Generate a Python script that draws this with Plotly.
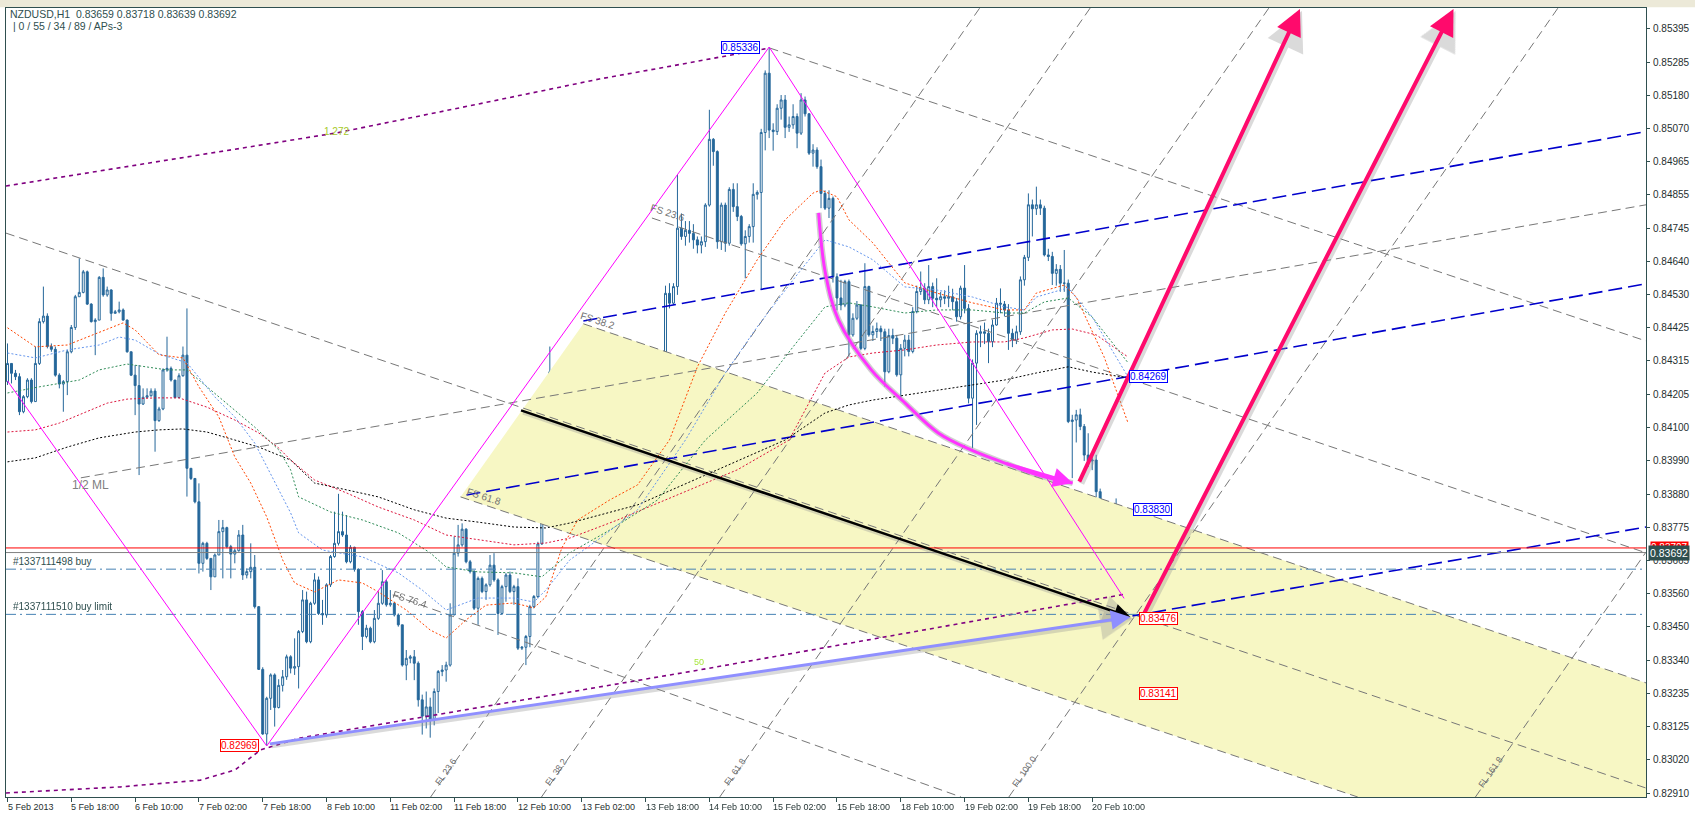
import plotly.graph_objects as go

# ---------------- data (bar index = hourly bar, prices) ----------------
open0 = 0.84248
closes = [
0.84307,0.84275,0.84264,0.84150,0.84199,0.84253,0.84183,0.84307,0.84443,0.84461,
0.84362,0.84353,0.84269,0.84240,0.84248,0.84345,0.84424,0.84524,0.84538,0.84605,
0.84500,0.84443,0.84448,0.84587,0.84530,0.84546,0.84470,0.84475,0.84481,0.84448,
0.84345,0.84269,0.84235,0.84175,0.84197,0.84202,0.84217,0.84121,0.84159,0.84286,
0.84291,0.84253,0.84196,0.84267,0.84334,0.83966,0.83933,0.83857,0.83657,0.83722,
0.83673,0.83613,0.83684,0.83760,0.83773,0.83711,0.83687,0.83698,0.83749,0.83619,
0.83630,0.83644,0.83516,0.83312,0.83102,0.83218,0.83294,0.83188,0.83260,0.83288,
0.83353,0.83316,0.83321,0.83435,0.83538,0.83402,0.83527,0.83603,0.83494,0.83489,
0.83587,0.83679,0.83722,0.83760,0.83749,0.83662,0.83709,0.83638,0.83500,0.83419,
0.83446,0.83402,0.83478,0.83527,0.83597,0.83522,0.83527,0.83489,0.83457,0.83326,
0.83348,0.83353,0.83332,0.83213,0.83160,0.83190,0.83150,0.83240,0.83305,0.83310,
0.83326,0.83489,0.83690,0.83717,0.83768,0.83662,0.83630,0.83511,0.83608,0.83565,
0.83587,0.83651,0.83603,0.83494,0.83581,0.83619,0.83565,0.83581,0.83381,0.83384,
0.83419,0.83516,0.83549,0.83720,0.83861,0.84194,0.84280,0.84156,0.84069,0.84004,
0.84090,0.84150,0.84110,0.84060,0.84090,0.84096,0.84123,0.84130,0.84253,0.84264,
0.84150,0.84210,0.84156,0.84140,0.84096,0.84069,0.84102,0.84058,0.84040,0.84080,
0.84060,0.84110,0.84128,0.84069,0.84050,0.84535,0.84503,0.84557,0.84747,0.84720,
0.84740,0.84730,0.84709,0.84692,0.84703,0.84822,0.85036,0.84996,0.84703,0.84822,
0.84698,0.84873,0.84817,0.84785,0.84696,0.84720,0.84752,0.84857,0.84863,0.85058,
0.85251,0.85066,0.85061,0.85137,0.85164,0.85075,0.85083,0.85110,0.85056,0.85164,
0.85119,0.84991,0.85001,0.84947,0.84860,0.84812,0.84844,0.84589,0.84520,0.84497,
0.84573,0.84400,0.84454,0.84497,0.84356,0.84557,0.84400,0.84411,0.84420,0.84410,
0.84280,0.84398,0.84389,0.84270,0.84356,0.84383,0.84346,0.84476,0.84541,0.84552,
0.84514,0.84557,0.84519,0.84514,0.84524,0.84519,0.84524,0.84508,0.84459,0.84552,
0.84486,0.84194,0.84308,0.84405,0.84410,0.84405,0.84378,0.84432,0.84503,0.84500,
0.84481,0.84405,0.84383,0.84410,0.84579,0.84652,0.84823,0.84810,0.84823,0.84812,
0.84660,0.84655,0.84600,0.84613,0.84568,0.84568,0.84118,0.84123,0.84140,0.84102,
0.84009,0.83990,0.83993,0.83890,0.83673,0.83706,0.83722,0.83749,0.83776,0.83668,
0.83659,0.83692]
highs = [
0.84372,0.84307,0.84286,0.84275,0.84204,0.84259,0.84259,0.84362,0.84454,0.84557,
0.84470,0.84372,0.84362,0.84275,0.84253,0.84351,0.84432,0.84530,0.84649,0.84611,
0.84609,0.84503,0.84454,0.84591,0.84616,0.84557,0.84548,0.84481,0.84508,0.84486,
0.84450,0.84345,0.84302,0.84302,0.84226,0.84226,0.84226,0.84226,0.84166,0.84291,
0.84394,0.84297,0.84253,0.84275,0.84362,0.84486,0.83966,0.83933,0.83917,0.83727,
0.83727,0.83673,0.83689,0.83798,0.83798,0.83776,0.83717,0.83705,0.83765,0.83782,
0.83640,0.83722,0.83684,0.83518,0.83319,0.83223,0.83299,0.83299,0.83280,0.83310,
0.83360,0.83358,0.83413,0.83440,0.83570,0.83565,0.83532,0.83625,0.83614,0.83538,
0.83592,0.83684,0.83825,0.83883,0.83825,0.83814,0.83716,0.83711,0.83640,0.83505,
0.83457,0.83451,0.83505,0.83565,0.83635,0.83603,0.83570,0.83532,0.83494,0.83457,
0.83375,0.83359,0.83375,0.83338,0.83230,0.83240,0.83220,0.83250,0.83310,0.83326,
0.83337,0.83527,0.83744,0.83782,0.83787,0.83771,0.83668,0.83635,0.83614,0.83614,
0.83592,0.83684,0.83690,0.83608,0.83587,0.83625,0.83630,0.83587,0.83608,0.83388,
0.83424,0.83522,0.83554,0.83727,0.83868,0.84200,0.84362,0.84286,0.84183,0.84075,
0.84120,0.84180,0.84200,0.84130,0.84120,0.84150,0.84150,0.84160,0.84270,0.84286,
0.84270,0.84286,0.84220,0.84175,0.84160,0.84110,0.84120,0.84110,0.84090,0.84110,
0.84134,0.84140,0.84150,0.84130,0.84090,0.84560,0.84568,0.84568,0.84920,0.84795,
0.84770,0.84770,0.84760,0.84720,0.84720,0.84828,0.85132,0.85040,0.85000,0.84830,
0.84830,0.84880,0.84893,0.84893,0.84790,0.84740,0.84760,0.84893,0.84870,0.85070,
0.85260,0.85336,0.85088,0.85150,0.85180,0.85180,0.85110,0.85150,0.85120,0.85186,
0.85175,0.85120,0.85020,0.85010,0.84970,0.84870,0.84870,0.84850,0.84600,0.84579,
0.84579,0.84580,0.84470,0.84510,0.84500,0.84633,0.84560,0.84430,0.84440,0.84430,
0.84420,0.84420,0.84420,0.84400,0.84370,0.84400,0.84400,0.84490,0.84560,0.84606,
0.84568,0.84627,0.84570,0.84584,0.84540,0.84545,0.84560,0.84550,0.84520,0.84560,
0.84627,0.84500,0.84320,0.84415,0.84430,0.84440,0.84420,0.84450,0.84520,0.84551,
0.84510,0.84500,0.84420,0.84430,0.84590,0.84660,0.84860,0.84840,0.84882,0.84840,
0.84820,0.84680,0.84670,0.84630,0.84627,0.84676,0.84580,0.84140,0.84156,0.84160,
0.84110,0.84080,0.84010,0.84010,0.83900,0.83720,0.83740,0.83847,0.83868,0.83780,
0.83700,0.83718]
lows = [
0.84237,0.84242,0.84253,0.84139,0.84145,0.84194,0.84177,0.84183,0.84302,0.84437,
0.84356,0.84345,0.84264,0.84226,0.84150,0.84204,0.84340,0.84416,0.84524,0.84535,
0.84497,0.84440,0.84334,0.84448,0.84524,0.84524,0.84446,0.84470,0.84470,0.84446,
0.84342,0.84266,0.84139,0.83944,0.84172,0.84194,0.84199,0.84020,0.84117,0.84155,
0.84280,0.84248,0.84194,0.84194,0.84264,0.83874,0.83928,0.83852,0.83624,0.83630,
0.83668,0.83570,0.83613,0.83684,0.83608,0.83706,0.83608,0.83657,0.83695,0.83603,
0.83608,0.83608,0.83510,0.83310,0.83099,0.83063,0.83180,0.83126,0.83185,0.83240,
0.83278,0.83299,0.83294,0.83250,0.83430,0.83397,0.83397,0.83522,0.83489,0.83457,
0.83480,0.83580,0.83675,0.83715,0.83743,0.83657,0.83657,0.83630,0.83457,0.83375,
0.83413,0.83397,0.83397,0.83473,0.83522,0.83516,0.83516,0.83484,0.83451,0.83321,
0.83277,0.83332,0.83277,0.83191,0.83100,0.83120,0.83090,0.83130,0.83170,0.83290,
0.83272,0.83321,0.83489,0.83679,0.83711,0.83657,0.83624,0.83505,0.83457,0.83560,
0.83538,0.83581,0.83597,0.83424,0.83489,0.83532,0.83560,0.83522,0.83375,0.83375,
0.83326,0.83384,0.83511,0.83543,0.83717,0.83852,0.84190,0.84069,0.84064,0.83977,
0.83990,0.84080,0.84090,0.84030,0.84020,0.84060,0.84080,0.84100,0.84115,0.84200,
0.84140,0.84145,0.84140,0.84120,0.84070,0.84040,0.84040,0.84010,0.83990,0.84020,
0.84000,0.84050,0.84090,0.83990,0.83980,0.84040,0.84486,0.84497,0.84530,0.84709,
0.84690,0.84700,0.84680,0.84665,0.84665,0.84686,0.84817,0.84950,0.84680,0.84676,
0.84670,0.84690,0.84800,0.84770,0.84690,0.84584,0.84700,0.84700,0.84840,0.84546,
0.85000,0.85040,0.84999,0.85050,0.85100,0.85040,0.85060,0.85070,0.85007,0.85050,
0.85110,0.84985,0.84947,0.84940,0.84812,0.84806,0.84780,0.84570,0.84480,0.84480,
0.84490,0.84329,0.84394,0.84448,0.84350,0.84350,0.84394,0.84380,0.84390,0.84380,
0.84232,0.84275,0.84370,0.84264,0.84194,0.84330,0.84330,0.84340,0.84470,0.84530,
0.84500,0.84500,0.84490,0.84490,0.84490,0.84500,0.84490,0.84480,0.84443,0.84450,
0.84470,0.84177,0.84031,0.84107,0.84360,0.84370,0.84308,0.84360,0.84430,0.84470,
0.84460,0.84351,0.84360,0.84370,0.84400,0.84560,0.84640,0.84720,0.84790,0.84790,
0.84655,0.84640,0.84562,0.84560,0.84540,0.84540,0.84113,0.83934,0.84050,0.84090,
0.83990,0.83970,0.83960,0.83831,0.83570,0.83570,0.83576,0.83700,0.83740,0.83640,
0.83543,0.83639]

x_tick_bars = [0,16,32,48,64,80,96,112,128,144,160,176,192,208,224,240,256,272]
x_tick_labels = ["5 Feb 2013","5 Feb 18:00","6 Feb 10:00","7 Feb 02:00","7 Feb 18:00",
    "8 Feb 10:00","11 Feb 02:00","11 Feb 18:00","12 Feb 10:00","13 Feb 02:00",
    "13 Feb 18:00","14 Feb 10:00","15 Feb 02:00","15 Feb 18:00","18 Feb 10:00",
    "19 Feb 02:00","19 Feb 18:00","20 Feb 10:00"]
y_tick_vals = [0.85395,0.85285,0.85180,0.85070,0.84965,0.84855,0.84745,0.84640,0.84530,
    0.84425,0.84315,0.84205,0.84100,0.83990,0.83880,0.83775,0.83665,0.83560,0.83450,
    0.83340,0.83235,0.83125,0.83020,0.82910]
y_tick_text = ["%.5f" % v for v in y_tick_vals]

# moving averages (bar, price)
ma_orange_x = [0,7,15,20,26,29,32,38,44,48,53,57,61,65,69,72,77,83,89,93,100,106,110,115,120,127,132,135,139,143,151,158,166,173,180,188,195,202,204,208,211,217,225,233,242,250,255,258,265,268,275,281]
ma_orange_y = [0.84423,0.84361,0.84367,0.84393,0.84426,0.84439,0.84416,0.84335,0.84325,0.84231,0.84133,0.84003,0.83918,0.83808,0.83668,0.83593,0.83564,0.83603,0.83593,0.83564,0.83505,0.83440,0.83414,0.83473,0.83521,0.83528,0.83512,0.83548,0.83707,0.83798,0.83863,0.83912,0.84058,0.84296,0.84471,0.84644,0.84774,0.84861,0.84871,0.84849,0.84774,0.84699,0.84569,0.84536,0.84504,0.84481,0.84481,0.84536,0.84562,0.84523,0.84328,0.84113]
ma_blue_x = [0,7,15,23,28,32,38,45,52,57,62,68,71,73,79,89,98,104,110,118,127,132,135,141,148,158,170,180,188,197,205,211,217,225,233,242,250,255,258,266,272,281]
ma_blue_y = [0.84341,0.84325,0.84351,0.84367,0.84393,0.84383,0.84338,0.84309,0.84198,0.84133,0.84048,0.83896,0.83821,0.83756,0.83700,0.83678,0.83626,0.83570,0.83505,0.83544,0.83544,0.83531,0.83570,0.83668,0.83733,0.83831,0.84058,0.84276,0.84426,0.84579,0.84709,0.84686,0.84644,0.84556,0.84546,0.84523,0.84491,0.84481,0.84523,0.84553,0.84458,0.84263]
ma_green_x = [0,8,18,23,30,33,40,45,50,57,62,68,71,73,81,89,98,106,110,118,127,134,141,151,163,175,188,197,205,211,217,225,233,242,250,255,260,266,272,281]
ma_green_y = [0.84211,0.84231,0.84253,0.84286,0.84305,0.84299,0.84286,0.84286,0.84231,0.84156,0.84100,0.84026,0.83961,0.83873,0.83824,0.83798,0.83756,0.83691,0.83645,0.83629,0.83626,0.83613,0.83691,0.83765,0.83863,0.84058,0.84211,0.84361,0.84491,0.84504,0.84491,0.84471,0.84481,0.84481,0.84471,0.84471,0.84507,0.84520,0.84458,0.84309]
ma_red_x = [0,7,13,19,25,30,37,43,50,57,63,68,71,77,85,93,102,110,118,127,135,141,153,168,183,196,205,211,217,225,233,242,250,255,262,267,273,281]
ma_red_y = [0.84084,0.84091,0.84113,0.84146,0.84178,0.84191,0.84195,0.84195,0.84165,0.84123,0.84081,0.84032,0.83993,0.83928,0.83886,0.83840,0.83798,0.83749,0.83733,0.83717,0.83723,0.83739,0.83798,0.83879,0.83961,0.84058,0.84276,0.84328,0.84341,0.84351,0.84367,0.84377,0.84377,0.84390,0.84416,0.84419,0.84400,0.84328]
ma_black_x = [0,7,15,23,32,38,44,50,57,63,71,77,85,93,102,110,118,127,135,141,158,178,195,205,211,217,225,233,242,250,258,266,272,281]
ma_black_y = [0.83987,0.84000,0.84035,0.84065,0.84084,0.84091,0.84094,0.84084,0.84058,0.84035,0.83993,0.83918,0.83896,0.83873,0.83831,0.83804,0.83791,0.83775,0.83772,0.83788,0.83847,0.83961,0.84058,0.84146,0.84172,0.84188,0.84204,0.84221,0.84237,0.84253,0.84276,0.84296,0.84279,0.84260]

# drawn objects (bar, price)
zigzag_x = [0, 65, 191, 280]
zigzag_y = [0.84250, 0.83063, 0.85336, 0.83543]
yellow_x = [113.6, 144.4, 410.9, 410.9, 338.6]
yellow_y = [0.83873, 0.84436, 0.83268, 0.82897, 0.82897]
gray_lines = {  # name: (x0, y0, x1, y1)
    "half_ml": (18.4, 0.83935, 410.9, 0.84823),
    "g_upper": (-0.4, 0.84731, 410.9, 0.82926),
    "fs0": (191.1, 0.85333, 410.9, 0.84380),
    "fs236": (161.6, 0.84780, 410.9, 0.83691),
    "fs382": (144.4, 0.84436, 410.9, 0.83268),
    "fs618": (113.6, 0.83873, 338.6, 0.82897),
    "fs764": (96.6, 0.83554, 239.1, 0.82897),
    "fl236": (106.1, 0.82897, 243.8, 0.85463),
    "fl382": (133.9, 0.82897, 271.5, 0.85463),
    "fl618": (178.6, 0.82897, 316.3, 0.85463),
    "fl100": (251.1, 0.82897, 388.8, 0.85463),
    "fl1618": (368.1, 0.82897, 410.9, 0.83694),
}
blue_lines = {
    "b1": (144.4, 0.84445, 410.9, 0.85061),
    "b2": (115.1, 0.83879, 410.9, 0.84566),
    "b3": (282.1, 0.83486, 410.9, 0.83775),
}
purple_top_x = [-0.4, 40.9, 82.6, 115.9, 148.4, 165.1, 181.6, 191.1]
purple_top_y = [0.84884, 0.84969, 0.85057, 0.85145, 0.85232, 0.85271, 0.85310, 0.85333]
purple_bot_x = [-0.4, 28.4, 48.4, 57.1, 63.4, 73.4, 173.4, 280.4]
purple_bot_y = [0.82910, 0.82930, 0.82952, 0.82985, 0.83050, 0.83089, 0.83310, 0.83557]
curve_x = [203.4, 205.1, 208.4, 216.6, 225.1, 233.4, 241.6, 250.1, 258.4, 267.1]
curve_y = [0.84797, 0.84601, 0.84448, 0.84286, 0.84178, 0.84081, 0.84026, 0.83983, 0.83944, 0.83918]
arrows = [  # x0, y0, x1, y1, color, width
    (128.4, 0.84156, 281.6, 0.83482, "#000000", 2.5),
    (65.4, 0.83069, 281.6, 0.83482, "#8f8fff", 3),
    (268.6, 0.83918, 324.1, 0.85460, "#ff0a6c", 4),
    (284.9, 0.83491, 362.6, 0.85460, "#ff0a6c", 4),
]
ask_price = 0.83707
bid_price = 0.83692
order_prices = [0.83638, 0.83491]
order_labels = ["#1337111498 buy", "#1337111510 buy limit"]
price_boxes = [  # text, bar, price, color
    ("0.85336", 183.7, 0.85333, "#0000ff"),
    ("0.84269", 286.2, 0.84263, "#0000ff"),
    ("0.83830", 287.0, 0.83831, "#0000ff"),
    ("0.83476", 288.6, 0.83476, "#ff0000"),
    ("0.83141", 288.6, 0.83235, "#ff0000"),
    ("0.82969", 58.2, 0.83063, "#ff0000"),
]
fs_labels = [("FS 23.6", 165.4, 0.84797), ("FS 38.2", 147.9, 0.84448),
             ("FS 61.8", 119.4, 0.83873), ("FS 76.4", 100.9, 0.83538)]
fl_labels = [("FL 23.6", 109.9, 0.82978), ("FL 38.2", 137.6, 0.82978),
             ("FL 61.8", 182.4, 0.82978), ("FL 100.0", 254.9, 0.82978),
             ("FL 161.8", 371.9, 0.82978)]
header_lines = ["NZDUSD,H1&nbsp;&nbsp;0.83659&nbsp;0.83718&nbsp;0.83639&nbsp;0.83692",
                "&nbsp;|&nbsp;0 / 55 / 34 / 89 / APs-3"]

X_RANGE = [-0.375, 410.875]
Y_RANGE = [0.82897, 0.85463]

# ---------------- figure ----------------
opens = [open0] + closes[:-1]
hi = [max(h, o, c) for h, o, c in zip(highs, opens, closes)]
lo = [min(l, o, c) for l, o, c in zip(lows, opens, closes)]
bars = list(range(len(closes)))

fig = go.Figure()

def line(xs, ys, color, width=1, dash=None):
    fig.add_trace(go.Scatter(x=xs, y=ys, mode="lines", hoverinfo="skip", showlegend=False,
                             line=dict(color=color, width=width, dash=dash)))

fig.add_trace(go.Scatter(x=yellow_x + [yellow_x[0]], y=yellow_y + [yellow_y[0]], mode="lines",
                         fill="toself", fillcolor="#f7f7c4", line=dict(width=0),
                         hoverinfo="skip", showlegend=False))

for k, (x0, y0, x1, y1) in gray_lines.items():
    line([x0, x1], [y0, y1], "#777777", 1, "9px,5px")
for k, (x0, y0, x1, y1) in blue_lines.items():
    line([x0, x1], [y0, y1], "#0000cc", 1.6, "14px,6px")

line(purple_top_x, purple_top_y, "#800080", 1.6, "4px,4px")
line(purple_bot_x, purple_bot_y, "#800080", 1.6, "4px,4px")

line(ma_black_x, ma_black_y, "#000000", 1, "2px,2px")
line(ma_red_x, ma_red_y, "#dc143c", 1, "2px,2px")
line(ma_green_x, ma_green_y, "#2e8b57", 1, "2px,2px")
line(ma_blue_x, ma_blue_y, "#6495ed", 1, "2px,2px")
line(ma_orange_x, ma_orange_y, "#ff4500", 1, "2px,2px")

# horizontal price / order lines
line(X_RANGE, [ask_price, ask_price], "#ff0000", 1)
line(X_RANGE, [bid_price, bid_price], "#808080", 1)
for p in order_prices:
    line(X_RANGE, [p, p], "#4682b4", 1, "10px,4px,2px,4px")

fig.add_trace(go.Candlestick(
    x=bars, open=opens, high=hi, low=lo, close=closes,
    increasing=dict(line=dict(color="#25679a", width=1), fillcolor="#ffffff"),
    decreasing=dict(line=dict(color="#25679a", width=1), fillcolor="#25679a"),
    whiskerwidth=0, hoverinfo="skip", showlegend=False))

line(zigzag_x, zigzag_y, "#ff00ff", 1)

# curved magenta arrow with soft shadow
fig.add_trace(go.Scatter(x=curve_x, y=curve_y, mode="lines",
                         line=dict(color="rgba(150,150,150,0.45)", width=6, shape="spline"),
                         hoverinfo="skip", showlegend=False))
fig.add_trace(go.Scatter(x=curve_x, y=curve_y, mode="lines",
                         line=dict(color="#ff33ff", width=3, shape="spline"),
                         hoverinfo="skip", showlegend=False))
fig.add_annotation(x=curve_x[-1], y=curve_y[-1], ax=curve_x[-3], ay=curve_y[-3], xref="x", yref="y",
                   axref="x", ayref="y", showarrow=True, arrowhead=2, arrowsize=1.3, arrowwidth=3,
                   arrowcolor="#ff33ff", text="", standoff=0)

for x0, y0, x1, y1, col, w in arrows:
    fig.add_annotation(x=x1, y=y1, ax=x0, ay=y0, xref="x", yref="y", axref="x", ayref="y",
                       showarrow=True, arrowhead=2, arrowsize=1.3, arrowwidth=w + 2,
                       arrowcolor="rgba(150,150,150,0.35)", text="", standoff=0, xshift=2, yshift=-2)
    fig.add_annotation(x=x1, y=y1, ax=x0, ay=y0, xref="x", yref="y", axref="x", ayref="y",
                       showarrow=True, arrowhead=2, arrowsize=1.3, arrowwidth=w, arrowcolor=col,
                       text="", standoff=0)

FONT = "Liberation Sans"
for txt, bx, py, col in price_boxes:
    fig.add_annotation(x=bx, y=py, xref="x", yref="y", text=txt, showarrow=False,
                       font=dict(family=FONT, size=10, color=col), bgcolor="#ffffff",
                       bordercolor=col, borderwidth=1, borderpad=0)

for txt, bx, py in fs_labels:
    fig.add_annotation(x=bx, y=py, xref="x", yref="y", text=txt, showarrow=False, textangle=18,
                       font=dict(family=FONT, size=10, color="#707070"))
for txt, bx, py in fl_labels:
    fig.add_annotation(x=bx, y=py, xref="x", yref="y", text=txt, showarrow=False, textangle=-55,
                       font=dict(family=FONT, size=9, color="#707070"))

fig.add_annotation(x=20.9, y=0.83912, xref="x", yref="y", text="1/2 ML", showarrow=False,
                   font=dict(family=FONT, size=12, color="#808080"))
fig.add_annotation(x=82.6, y=0.85060, xref="x", yref="y", text="1.272", showarrow=False,
                   font=dict(family=FONT, size=10, color="#a6c92a"))
fig.add_annotation(x=173.4, y=0.83336, xref="x", yref="y", text="50", showarrow=False,
                   font=dict(family=FONT, size=9, color="#a8e63c"))

for txt, p in zip(order_labels, order_prices):
    fig.add_annotation(x=0.8, y=p, xref="x", yref="y", text=txt, showarrow=False, xanchor="left",
                       yanchor="bottom", yshift=0, font=dict(family=FONT, size=10, color="#2f4f4f"))

# header (two lines)
for txt, yp in zip(header_lines, [0.9924, 0.9772]):
    fig.add_annotation(x=0.0, y=yp, xref="paper", yref="paper", xanchor="left", yanchor="middle",
                       text=txt, showarrow=False, align="left", xshift=2,
                       font=dict(family=FONT, size=10.5, color="#2f4f4f"))

# right axis boxes
fig.add_annotation(x=1, y=ask_price, xref="paper", yref="y", xanchor="left", text="0.83707",
                   showarrow=False, bgcolor="#ff0000", font=dict(family=FONT, size=10, color="#ffffff"),
                   borderpad=0, xshift=4)
fig.add_annotation(x=1, y=bid_price, xref="paper", yref="y", xanchor="left", text="0.83692",
                   showarrow=False, bgcolor="#2f4f4f", font=dict(family=FONT, size=10.5, color="#ffffff"),
                   borderpad=1, xshift=2)

# x tick labels (MT4 style: text starts at tick)
for b, t in zip(x_tick_bars, x_tick_labels):
    fig.add_annotation(x=b, y=0, xref="x", yref="paper", yanchor="top", xanchor="left", text=t,
                       showarrow=False, yshift=-3, xshift=-2,
                       font=dict(family=FONT, size=9, color="#1f2f2f"))

fig.update_layout(
    width=1695, height=819,
    margin=dict(l=5, r=45, t=8, b=22),
    paper_bgcolor="#ffffff", plot_bgcolor="#ffffff",
    showlegend=False,
    xaxis=dict(range=X_RANGE, rangeslider=dict(visible=False), showgrid=False, zeroline=False,
               tickvals=x_tick_bars, showticklabels=False, ticks="outside", ticklen=4,
               tickcolor="#2f4f4f", showline=True, linecolor="#2f4f4f", linewidth=1, mirror=True),
    yaxis=dict(range=Y_RANGE, side="right", showgrid=False, zeroline=False,
               tickvals=y_tick_vals, ticktext=y_tick_text, ticks="outside", ticklen=3,
               ticklabelstandoff=1,
               tickcolor="#2f4f4f", showline=True, linecolor="#2f4f4f", linewidth=1, mirror=True,
               tickfont=dict(family=FONT, size=10, color="#1f2f2f")),
    shapes=[
        dict(type="rect", xref="paper", yref="paper", x0=-0.01, x1=1.03, y0=1.001, y1=1.012,
             fillcolor="#ece9d8", line=dict(width=0), layer="below"),
        dict(type="rect", xref="paper", yref="paper", x0=-0.01, x1=1.03, y0=-0.036, y1=-0.03,
             fillcolor="#3a3a3a", line=dict(width=0), layer="below"),
    ],
)

fig.write_html("out.html", config={"displayModeBar": False},
               post_script="document.body.style.margin='0px';")
